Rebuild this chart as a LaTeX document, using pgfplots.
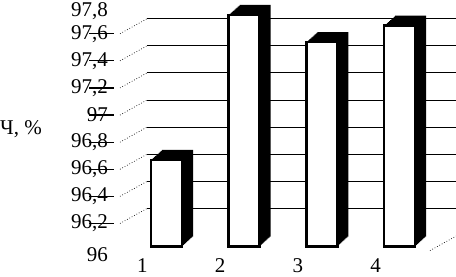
\documentclass[border=0pt]{standalone}
\usepackage{pgfplots}
\pgfplotsset{compat=1.18}
\usepackage{pgfplotstable}
\usepackage{fontspec}
\setmainfont{Liberation Serif}

\pgfplotstableread{
x v
1 96.64
2 97.71
3 97.51
4 97.63
}\data

\begin{document}
\begin{tikzpicture}
\begin{axis}[
  name=ax,
  scale only axis, width=310bp, height=244bp,
  xmin=0.4013, xmax=4.3926, ymin=0, ymax=1.8,
  clip=false,
  separate axis lines,
  axis line style={draw=none},
  major tick length=0pt,
  xtick={1,2,3,4}, xticklabels={1,2,3,4},
  xticklabel style={anchor=base, inner sep=0pt, yshift=-26bp, xshift=-24bp, font=\fontsize{21bp}{24bp}\selectfont},
  ytick={0.2,0.4,0.6,0.8,1.0,1.2,1.4,1.6},
  yticklabels={{96,2},{96,4},{96,6},{96,8},97,{97,2},{97,4},{97,6}},
  extra y ticks={0,1.8},
  extra y tick labels={96,{97,8}},
  extra y tick style={grid=none, yticklabel style={yshift=-4.5bp}},
  yticklabel style={anchor=east, inner sep=0pt, xshift=-12bp, yshift=-4bp, font=\fontsize{21bp}{24bp}\selectfont},
  ymajorgrids,
  major grid style={black, line width=0.9bp, xshift=27bp, yshift=11bp},
  ylabel={Ч, \%},
  ylabel style={rotate=-90, anchor=west, inner sep=0pt, at={(axis description cs:-0.387,0.482)}, font=\fontsize{21bp}{24bp}\selectfont},
]
\pgfplotsinvokeforeach{0.2,0.4,0.6,0.8,1.0,1.2,1.4,1.6}{
  \draw[line width=1.2bp] ([xshift=-6bp,yshift=-4bp]axis cs:0.4013,#1) -- ++(6bp,0);
  \draw[dotted, line width=0.7bp] ([yshift=-4bp]axis cs:0.4013,#1) -- ++(27bp,15bp);
}
\draw[dotted, line width=0.7bp] ([yshift=-4bp]axis cs:4.3926,0) -- ++(27bp,15bp);
\pgfplotsinvokeforeach{1,...,11}{
  \addplot[ybar, bar width=31bp, bar shift=0pt, fill=black, draw=none, xshift=#1*1bp, yshift=#1*0.9bp, forget plot]
    table[x=x, y expr=\thisrow{v}-96] {\data};
}
\addplot[ybar, bar width=31bp, bar shift=0pt, fill=white, draw=black, line width=2.5bp]
  table[x=x, y expr=\thisrow{v}-96] {\data};
\end{axis}
\pgfresetboundingbox
\path ([xshift=-120bp, yshift=-29.5bp]ax.south west) rectangle ([xshift=26bp, yshift=2.6bp]ax.north east);
\end{tikzpicture}
\end{document}
